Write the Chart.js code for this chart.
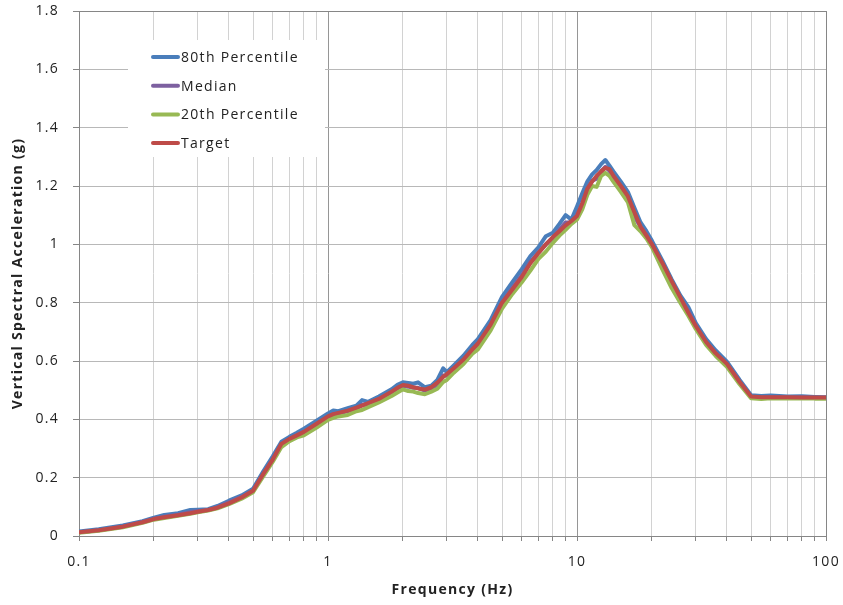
<!DOCTYPE html>
<html>
<head>
<meta charset="utf-8">
<script src="https://cdn.jsdelivr.net/npm/chart.js@4"></script>
<style>
  html, body { margin: 0; padding: 0; background: #fff; }
  #wrap { width: 843px; height: 605px; }
</style>
</head>
<body>
<div id="wrap"><canvas id="chart" width="843" height="605"></canvas></div>
<script>
// frequencies (Hz), shared by all four curves
const freq = [
    0.1, 0.12, 0.15, 0.18, 0.2, 0.22, 0.25, 0.28, 0.3, 0.33,
    0.36, 0.4, 0.45, 0.5, 0.55, 0.6, 0.65, 0.7, 0.75, 0.8,
    0.9, 1.0, 1.05, 1.1, 1.2, 1.3, 1.37, 1.45, 1.6, 1.8,
    1.9, 2.0, 2.1, 2.2, 2.3, 2.45, 2.6, 2.75, 2.9, 3.0,
    3.2, 3.5, 3.8, 4.0, 4.5, 5.0, 5.5, 6.0, 6.5, 7.0,
    7.5, 8.0, 8.5, 9.0, 9.5, 10, 10.5, 11, 11.5, 12,
    12.5, 13, 13.5, 14, 15, 16, 17, 18, 19, 20,
    22, 24, 26, 28, 30, 33, 36, 40, 45, 50,
    55, 60, 70, 80, 90, 100
];

const p80 = [
    0.015, 0.023, 0.036, 0.051, 0.063, 0.072, 0.078, 0.089, 0.09, 0.092,
    0.103, 0.121, 0.139, 0.162, 0.222, 0.273, 0.323, 0.34, 0.354, 0.368,
    0.395, 0.42, 0.43, 0.428, 0.438, 0.447, 0.466, 0.46, 0.478, 0.503,
    0.518, 0.527, 0.525, 0.522, 0.527, 0.51, 0.515, 0.535, 0.575, 0.562,
    0.585, 0.618, 0.655, 0.675, 0.74, 0.82, 0.87, 0.915, 0.96, 0.99,
    1.028, 1.04, 1.07, 1.10, 1.085, 1.13, 1.175, 1.215, 1.24, 1.255,
    1.275, 1.289, 1.27, 1.25, 1.215, 1.18, 1.125, 1.075, 1.045, 1.012,
    0.945, 0.88, 0.825, 0.785, 0.73, 0.675, 0.637, 0.598, 0.535, 0.483,
    0.48, 0.482, 0.478, 0.479, 0.477, 0.476
];

const median = [
    0.013, 0.02, 0.033, 0.048, 0.059, 0.066, 0.073, 0.082, 0.085, 0.089,
    0.099, 0.115, 0.134, 0.156, 0.213, 0.264, 0.315, 0.332, 0.346, 0.357,
    0.384, 0.409, 0.418, 0.42, 0.428, 0.438, 0.45, 0.452, 0.468, 0.492,
    0.506, 0.515, 0.512, 0.508, 0.508, 0.498, 0.505, 0.52, 0.55, 0.55,
    0.572, 0.604, 0.64, 0.657, 0.722, 0.8, 0.85, 0.893, 0.94, 0.972,
    1.0, 1.022, 1.05, 1.075, 1.075, 1.1, 1.14, 1.19, 1.218, 1.225,
    1.25, 1.266, 1.252, 1.232, 1.198, 1.162, 1.095, 1.06, 1.032, 1.0,
    0.93, 0.866, 0.812, 0.77, 0.72, 0.665, 0.627, 0.589, 0.528, 0.477,
    0.475, 0.477, 0.475, 0.476, 0.474, 0.474
];

const p20 = [
    0.011, 0.018, 0.03, 0.045, 0.056, 0.062, 0.069, 0.076, 0.081, 0.087,
    0.095, 0.109, 0.128, 0.15, 0.205, 0.255, 0.305, 0.325, 0.338, 0.345,
    0.372, 0.398, 0.405, 0.41, 0.415, 0.428, 0.432, 0.442, 0.458, 0.48,
    0.492, 0.503, 0.497, 0.495, 0.49, 0.486, 0.495, 0.505, 0.528, 0.535,
    0.56, 0.59, 0.625, 0.64, 0.705, 0.78, 0.83, 0.87, 0.91, 0.95,
    0.975, 1.005, 1.03, 1.05, 1.07, 1.085, 1.12, 1.17, 1.2, 1.197,
    1.235, 1.245, 1.235, 1.215, 1.18, 1.145, 1.066, 1.045, 1.02, 0.99,
    0.915, 0.85, 0.8, 0.755, 0.71, 0.655, 0.618, 0.58, 0.52, 0.472,
    0.47, 0.472, 0.471, 0.472, 0.471, 0.471
];

const target = [
    0.013, 0.02, 0.032, 0.047, 0.058, 0.064, 0.071, 0.078, 0.083, 0.089,
    0.097, 0.112, 0.132, 0.155, 0.213, 0.262, 0.316, 0.333, 0.345, 0.357,
    0.385, 0.41, 0.418, 0.422, 0.43, 0.44, 0.447, 0.456, 0.47, 0.495,
    0.508, 0.518, 0.515, 0.51, 0.506, 0.502, 0.51, 0.526, 0.545, 0.555,
    0.575, 0.605, 0.64, 0.66, 0.725, 0.80, 0.845, 0.888, 0.935, 0.97,
    1.0, 1.025, 1.045, 1.065, 1.08, 1.097, 1.14, 1.19, 1.215, 1.235,
    1.25, 1.262, 1.258, 1.235, 1.2, 1.165, 1.11, 1.06, 1.03, 1.0,
    0.937, 0.874, 0.818, 0.765, 0.72, 0.665, 0.627, 0.59, 0.528, 0.478,
    0.476, 0.476, 0.476, 0.475, 0.475, 0.475
];

const seriesNames = ['80th Percentile', 'Median', '20th Percentile', 'Target'];
const seriesColors = ['#4a7ebb', '#7d60a0', '#98b954', '#be4b48'];

const xDecades = [0.1, 1, 10, 100];
const yMin = 0, yMax = 1.8, yStep = 0.2;

const FONT = 'Open Sans';
const TEXT = '#222';
const SPACING = '1.3px';   // the original text is spread out a bit
const LINE_W = 4;

// every 1..9 multiple of a decade gets a gridline, only the decades get a label
let xTicks = [];
xDecades.forEach((d, i) => {
    if (i == xDecades.length - 1) { xTicks.push(d); return; }
    for (let k = 1; k < 10; k++) xTicks.push(+(d * k).toPrecision(3));
});

function pts(vals) {
    return freq.map((f, i) => ({ x: f, y: vals[i] }));
}

const allValues = [p80, median, p20, target];

const datasets = allValues.map((vals, i) => ({
    label: seriesNames[i],
    data: pts(vals),
    borderColor: seriesColors[i],
    backgroundColor: seriesColors[i],
    borderWidth: LINE_W,
    borderJoinStyle: 'round',
    borderCapStyle: 'round',
    pointRadius: 0,
    tension: 0,
    fill: false,
    order: allValues.length - 1 - i   // target on top, like the original
}));

const spacing = {
    id: 'spacing',
    beforeLayout(chart) { chart.ctx.letterSpacing = SPACING; },
    beforeDraw(chart) { chart.ctx.letterSpacing = SPACING; }
};

// top and right edge of the plot box
const plotFrame = {
    id: 'plotFrame',
    afterDraw(chart) {
        const { ctx, chartArea: a } = chart;
        ctx.save();
        ctx.strokeStyle = '#868686';
        ctx.lineWidth = 1;
        ctx.beginPath();
        ctx.moveTo(Math.round(a.left) + 0.5, Math.round(a.top) + 0.5);
        ctx.lineTo(Math.round(a.right) + 0.5, Math.round(a.top) + 0.5);
        ctx.lineTo(Math.round(a.right) + 0.5, Math.round(a.bottom) + 0.5);
        ctx.stroke();
        ctx.restore();
    }
};

// legend sits inside the plot, top left, on a white box
const insideLegend = {
    id: 'insideLegend',
    afterDatasetsDraw(chart) {
        const { ctx, chartArea: a } = chart;
        const boxX = a.left + 49, boxY = a.top + 29;
        ctx.save();
        ctx.fillStyle = '#fff';
        ctx.fillRect(boxX, boxY, 197, 117);
        ctx.font = '14px "' + FONT + '"';
        ctx.letterSpacing = SPACING;
        ctx.textBaseline = 'middle';
        ctx.textAlign = 'left';
        chart.data.datasets.forEach((ds, i) => {
            const y = boxY + 17 + i * 28.7;
            ctx.strokeStyle = ds.borderColor;
            ctx.lineWidth = LINE_W;
            ctx.lineCap = 'round';
            ctx.beginPath();
            ctx.moveTo(boxX + 25, y);
            ctx.lineTo(boxX + 50, y);
            ctx.stroke();
            ctx.fillStyle = TEXT;
            ctx.fillText(ds.label, boxX + 53, y + 1);
        });
        ctx.restore();
    }
};

const config = {
    type: 'line',
    data: { datasets: datasets },
    options: {
        responsive: false,
        animation: false,
        layout: { padding: { top: 11, right: 17, left: 0, bottom: 0 } },
        plugins: {
            legend: { display: false },
            tooltip: { enabled: false }
        },
        scales: {
            x: {
                type: 'logarithmic',
                min: xDecades[0],
                max: xDecades[xDecades.length - 1],
                afterBuildTicks: s => { s.ticks = xTicks.map(v => ({ value: v })); },
                afterFit: s => { s.height = 69; s.paddingLeft = 0; s.paddingRight = 0; },
                ticks: {
                    autoSkip: false,
                    maxRotation: 0,
                    padding: 13,
                    color: TEXT,
                    font: { family: FONT, size: 14 },
                    callback: v => xDecades.includes(v) ? String(v) : ''
                },
                grid: {
                    color: c => (c.tick && xDecades.includes(c.tick.value)) ? '#969696' : '#d2d2d2',
                    tickColor: '#868686',
                    tickLength: 5,
                    lineWidth: 1
                },
                border: { color: '#868686', width: 1 },
                title: {
                    display: true,
                    text: 'Frequency (Hz)',
                    color: TEXT,
                    font: { family: FONT, size: 14, weight: 'bold' },
                    padding: { top: 0, bottom: 7 }
                }
            },
            y: {
                min: yMin,
                max: yMax,
                afterFit: s => { s.width = 79; s.paddingTop = 0; s.paddingBottom = 0; },
                ticks: {
                    stepSize: yStep,
                    padding: 14,
                    color: TEXT,
                    font: { family: FONT, size: 14 },
                    callback: v => String(+v.toFixed(1))
                },
                grid: {
                    color: '#b8b8b8',
                    tickColor: '#868686',
                    tickLength: 6,
                    lineWidth: 1
                },
                border: { color: '#868686', width: 1 },
                title: {
                    display: true,
                    text: 'Vertical Spectral Acceleration (g)',
                    color: TEXT,
                    font: { family: FONT, size: 14, weight: 'bold' },
                    padding: { top: 10, bottom: 0 }
                }
            }
        }
    },
    plugins: [spacing, plotFrame, insideLegend]
};

const myChart = new Chart(document.getElementById('chart'), config);
</script>
</body>
</html>
